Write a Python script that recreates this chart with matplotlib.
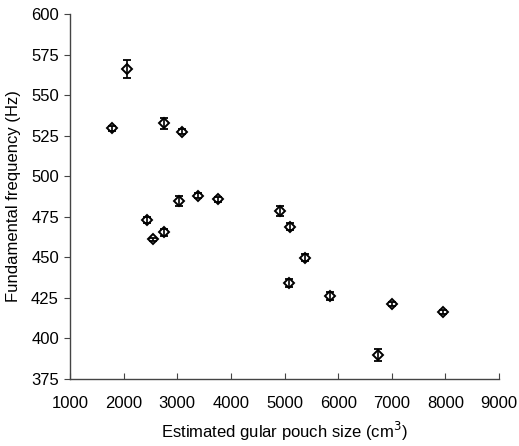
import matplotlib
matplotlib.use('Agg')
import matplotlib.pyplot as plt

# estimated gular pouch size (cm^3), fundamental frequency (Hz), error (Hz)
pouch_size = [1778, 2057, 2753, 3083, 2441, 2553, 2753, 3026, 3387,
              3754, 4922, 5102, 5388, 5090, 5854, 6743, 7010, 7961]
frequency = [529.5, 565.9, 532.6, 527.4, 473.0, 461.1, 465.4, 484.7, 488.0,
             485.8, 478.5, 468.9, 449.8, 434.3, 426.0, 390.0, 421.2, 416.3]
freq_err = [1.5, 5.5, 3.6, 1.5, 2.0, 1.0, 2.0, 3.0, 1.5,
            1.5, 3.0, 2.0, 2.0, 2.5, 2.5, 3.8, 1.5, 1.0]

x_ticks = [1000, 2000, 3000, 4000, 5000, 6000, 7000, 8000, 9000]
y_ticks = [375, 400, 425, 450, 475, 500, 525, 550, 575, 600]

plt.rcParams['font.family'] = ['Liberation Sans', 'DejaVu Sans']

fig = plt.figure(figsize=(5.19, 4.46), dpi=100)
ax = fig.add_axes([0.1349, 0.1502, 0.8266, 0.8184])

# open diamonds, with the error bar line drawn through them
ax.plot(pouch_size, frequency, linestyle='none', marker='D', markersize=5.5,
        markerfacecolor='white', markeredgecolor='black', markeredgewidth=1.4,
        zorder=2)
ax.errorbar(pouch_size, frequency, yerr=freq_err, fmt='none', ecolor='black',
            elinewidth=1.2, capsize=3, capthick=1.3, zorder=3)

ax.set_xlim(1000, 9000)
ax.set_ylim(375, 600)
ax.set_xticks(x_ticks)
ax.set_yticks(y_ticks)

for side in ['top', 'right']:
    ax.spines[side].set_visible(False)
for side in ['left', 'bottom']:
    ax.spines[side].set_color('#444444')
    ax.spines[side].set_linewidth(1)

ax.tick_params(axis='y', direction='out', length=4, color='#444444', labelsize=12, pad=4)
ax.tick_params(axis='x', direction='in', length=4, color='#444444', labelsize=12, pad=12)

ax.set_xlabel('Estimated gular pouch size (cm$^3$)', fontsize=12, labelpad=7)
ax.set_ylabel('Fundamental frequency (Hz)', fontsize=12, labelpad=7)

plt.savefig('out.png', dpi=100)
plt.close()
